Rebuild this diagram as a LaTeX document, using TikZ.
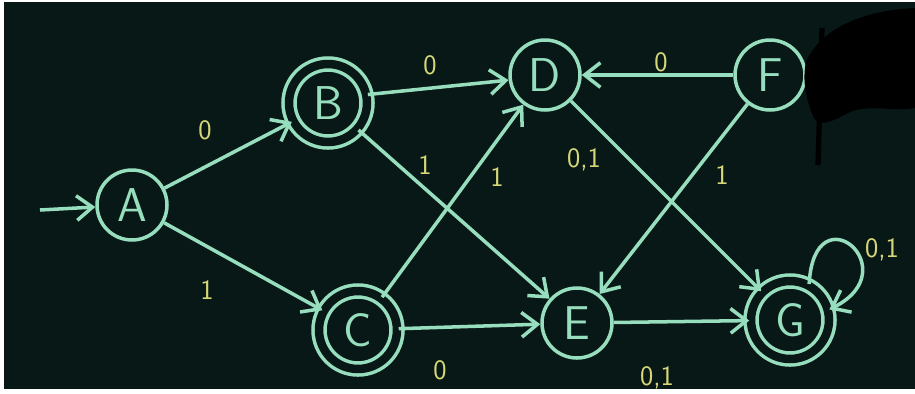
\documentclass[tikz,border=0pt]{standalone}
\usetikzlibrary{arrows.meta}
\usepackage{xcolor}
\definecolor{board}{RGB}{8,24,22}
\definecolor{chalk}{RGB}{150,222,190}
\definecolor{chalky}{RGB}{214,216,120}

\tikzset{
  state/.style={circle, draw=chalk, line width=2pt, minimum size=1.4cm, inner sep=0pt,
    text=chalk, font=\sffamily\fontsize{27}{29}\selectfont},
  accept/.style={state, minimum size=1.56cm, double=board, double distance=0.17cm},
  trans/.style={draw=chalk, line width=2pt, -{Straight Barb[length=9pt, width=14pt]}},
  sym/.style={text=chalky, font=\sffamily\fontsize{16}{18}\selectfont}
}

\begin{document}
\begin{tikzpicture}[x=0.02cm, y=-0.02cm]
      % \draw[help lines, gray!50, very thin] (0,0) grid (915,393);
      \useasboundingbox (0,0) rectangle (915,393);
      \fill[white] (0,0) rectangle (915,393);
      \fill[board] (4,2) rectangle (915,389);

      % states
      \node[state]  (A) at (132,205) {A};
      \node[accept] (B) at (328,103) {B};
      \node[accept] (C) at (358,330) {C};
      \node[state]  (D) at (545,75)  {D};
      \node[state]  (E) at (577,323) {E};
      \node[state]  (F) at (770,75)  {F};
      \node[accept] (G) at (790,320) {G};
      \coordinate (start) at (40,210);

      % transitions
      \draw[trans] (start) -- (A);
      \draw[trans] (A) -- (B);
      \draw[trans] (A) -- (C);
      \draw[trans] (B.12) -- (D.188);
      \draw[trans] (B) -- (E);
      \draw[trans] (C) -- (D);
      \draw[trans] (C) -- (E);
      \draw[trans] (D) -- (G);
      \draw[trans] (F) -- (D);
      \draw[trans] (F) -- (E);
      \draw[trans] (E) -- (G);
      \draw[trans] (G.62) .. controls +(5,-95) and +(80,-40) .. (G.15);

      % symbols
      \node[sym] (ab) at (205,130) {0};
      \node[sym] (ac) at (207,290) {1};
      \node[sym] (bd) at (430,65)  {0};
      \node[sym] (be) at (425,165) {1};
      \node[sym] (cd) at (497,177) {1};
      \node[sym] (ce) at (440,370) {0};
      \node[sym] (dg) at (584,160) {0,1};
      \node[sym] (fd) at (661,62)  {0};
      \node[sym] (fe) at (722,175) {1};
      \node[sym] (eg) at (657,378) {0,1};
      \node[sym] (gg) at (882,250) {0,1};

      % rubbed out corner
      \fill[black] (806,62) .. controls (822,25) and (870,10) .. (915,8)
        -- (915,108) .. controls (895,112) and (870,104) .. (850,112)
        .. controls (835,120) and (820,128) .. (814,118)
        .. controls (806,100) and (802,80) .. (806,62) -- cycle;
      \draw[black, line width=3pt] (822,28) -- (818,165);
    \end{tikzpicture}
\end{document}
